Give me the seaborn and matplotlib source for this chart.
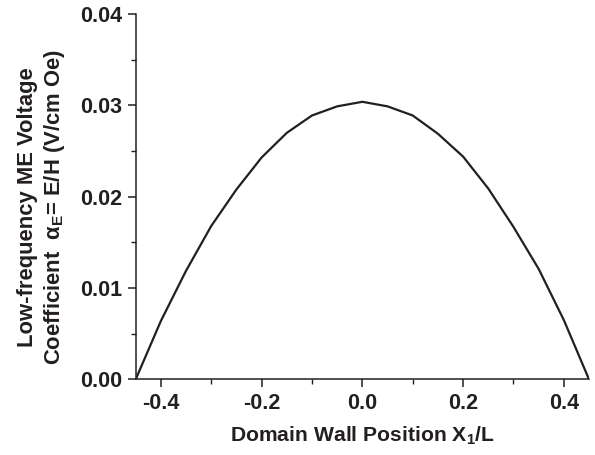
import matplotlib
matplotlib.use("Agg")
import matplotlib.pyplot as plt
import seaborn as sns
import pandas as pd
from matplotlib.ticker import MultipleLocator

# Data
x_pos = [-0.45, -0.40, -0.35, -0.30, -0.25, -0.20, -0.15, -0.10, -0.05, 0.00,
         0.05, 0.10, 0.15, 0.20, 0.25, 0.30, 0.35, 0.40, 0.45]
alpha_e = [0.0000, 0.0064, 0.0119, 0.0168, 0.0208, 0.0243, 0.0270, 0.0289, 0.0299, 0.0304,
           0.0299, 0.0289, 0.0269, 0.0244, 0.0209, 0.0167, 0.0121, 0.0065, 0.0000]

x_ticks = [-0.4, -0.2, 0.0, 0.2, 0.4]
x_ticklabels = ["-0.4", "-0.2", "0.0", "0.2", "0.4"]
y_ticks = [0.00, 0.01, 0.02, 0.03, 0.04]
y_ticklabels = ["0.00", "0.01", "0.02", "0.03", "0.04"]

sns.set_theme(style="ticks")
plt.rcParams["font.family"] = ["Liberation Sans", "DejaVu Sans"]
plt.rcParams["font.weight"] = "bold"
plt.rcParams["mathtext.fontset"] = "custom"
plt.rcParams["mathtext.rm"] = "Liberation Sans:bold"
plt.rcParams["mathtext.it"] = "Liberation Sans:bold"
plt.rcParams["mathtext.bf"] = "Liberation Sans:bold"

df = pd.DataFrame({"x": x_pos, "y": alpha_e})

fig = plt.figure(figsize=(5.95, 4.55), dpi=100)
ax = fig.add_axes([0.228, 0.166, 0.762, 0.803])
sns.lineplot(data=df, x="x", y="y", ax=ax, color="#231f20", linewidth=1.6)

ax.set_xlim(-0.45, 0.45)
ax.set_ylim(0.0, 0.04)
ax.set_xticks(x_ticks)
ax.set_xticklabels(x_ticklabels)
ax.set_yticks(y_ticks)
ax.set_yticklabels(y_ticklabels)
ax.xaxis.set_minor_locator(MultipleLocator(0.1))
ax.yaxis.set_minor_locator(MultipleLocator(0.005))
ax.tick_params(axis="both", which="major", direction="out", length=6, width=1.1,
               labelsize=15.5, colors="#231f20", pad=4)
ax.tick_params(axis="both", which="minor", direction="out", length=3.5, width=1.0,
               colors="#231f20")
for lab in ax.get_xticklabels() + ax.get_yticklabels():
    lab.set_fontweight("bold")

for s in ["top", "right"]:
    ax.spines[s].set_visible(False)
for s in ["left", "bottom"]:
    ax.spines[s].set_linewidth(1.1)
    ax.spines[s].set_color("#231f20")

ax.set_xlabel(r"Domain Wall Position X$_\mathregular{1}$/L", fontsize=15.2,
              fontweight="bold", color="#231f20")
ax.xaxis.set_label_coords(0.5, -0.125)
ax.set_ylabel("Low-frequency ME Voltage\n" + r"Coefficient  $\alpha_\mathregular{E}$= E/H (V/cm Oe)",
              fontsize=15.8, fontweight="bold", color="#231f20",
              linespacing=1.22)
ax.yaxis.set_label_coords(-0.152, 0.472)

fig.savefig("out.png", dpi=100, facecolor="white")
